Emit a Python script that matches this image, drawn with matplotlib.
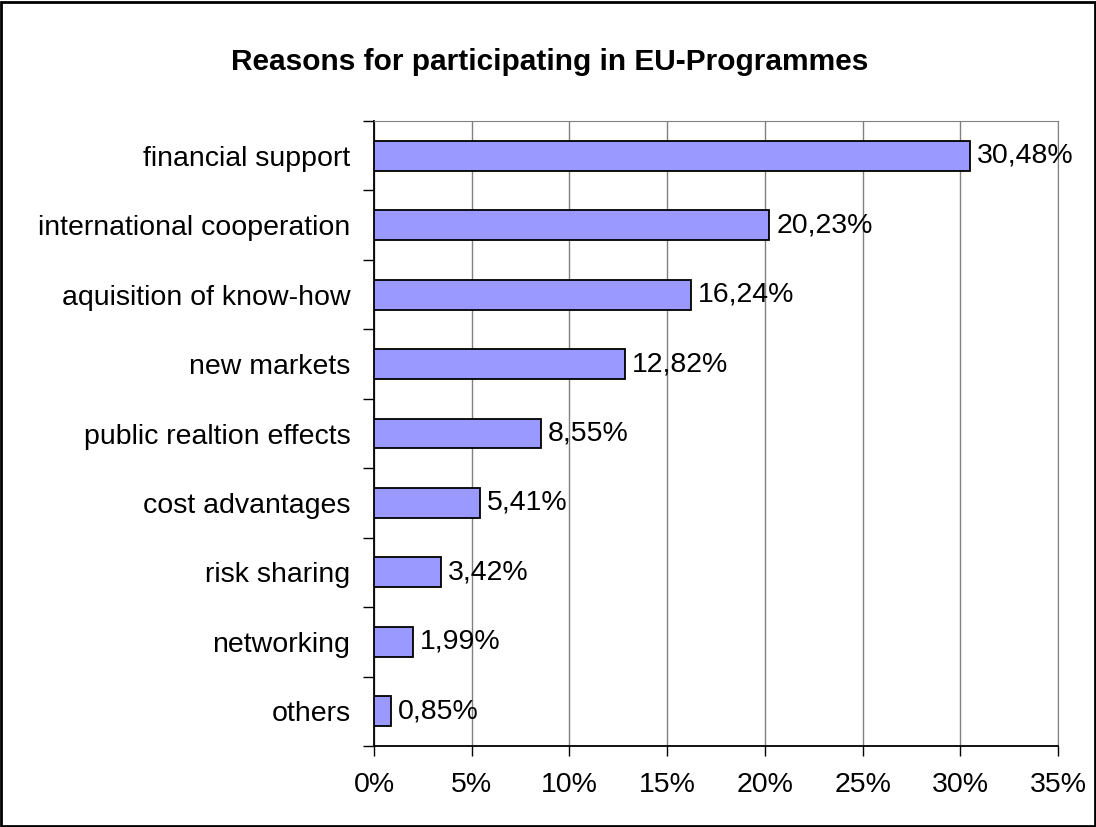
import matplotlib.pyplot as plt
from matplotlib.patches import Rectangle
from matplotlib.ticker import MultipleLocator, FixedLocator

plt.rcParams['font.family'] = ['Liberation Sans', 'DejaVu Sans']

reasons = ['financial support', 'international cooperation', 'aquisition of know-how',
           'new markets', 'public realtion effects', 'cost advantages',
           'risk sharing', 'networking', 'others']
shares = [30.48, 20.23, 16.24, 12.82, 8.55, 5.41, 3.42, 1.99, 0.85]
share_labels = ['30,48%', '20,23%', '16,24%', '12,82%', '8,55%', '5,41%', '3,42%', '1,99%', '0,85%']

fs = 20.5

fig = plt.figure(figsize=(10.96, 8.27), dpi=100)
ax = fig.add_axes([374 / 1096, 1 - 746 / 827, (1058 - 374) / 1096, (746 - 121) / 827])

pos = list(range(len(reasons)))[::-1]
ax.barh(pos, shares, height=0.43, color='#9999ff', edgecolor='black', linewidth=1.3, zorder=3)
for y, v, lab in zip(pos, shares, share_labels):
    ax.text(v + 0.35, y, lab, va='center', ha='left', fontsize=fs, zorder=4)

ax.set_xlim(0, 35)
ax.set_ylim(-0.5, len(reasons) - 0.5)
ax.xaxis.set_major_locator(MultipleLocator(5))
ax.set_xticklabels([f'{int(t)}%' for t in ax.get_xticks()], fontsize=fs)
ax.set_yticks(pos)
ax.set_yticklabels(reasons, fontsize=fs)
ax.tick_params(axis='y', length=0, pad=17)
ax.tick_params(axis='x', length=7, width=1, pad=12)

# category separator ticks on the left axis
ax.yaxis.set_minor_locator(FixedLocator([p - 0.5 for p in range(len(reasons) + 1)]))
ax.tick_params(axis='y', which='minor', length=8, width=1)

ax.grid(axis='x', color='#808080', linewidth=1, zorder=0)
for side in ['top', 'right']:
    ax.spines[side].set_color('#808080')
for side in ['left', 'bottom']:
    ax.spines[side].set_color('black')
    ax.spines[side].set_linewidth(1.3)

fig.text(550 / 1096, 1 - 62 / 827, 'Reasons for participating in EU-Programmes',
         ha='center', va='center', fontsize=21.5, fontweight='bold')

fig.patches.append(Rectangle((0.001, 0.001), 0.998, 0.997, transform=fig.transFigure,
                             fill=False, edgecolor='black', linewidth=2))

fig.savefig('out.png', dpi=100)
